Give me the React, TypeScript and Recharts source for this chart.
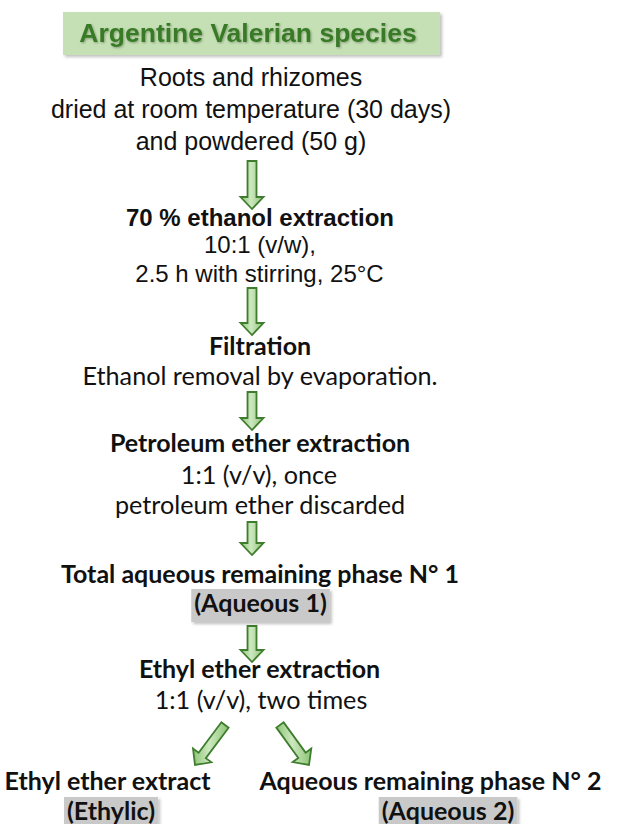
import React from "react";
import { ScatterChart, Scatter, XAxis, YAxis } from "recharts";

const W = 620;
const H = 824;

const ARIAL = '"Liberation Sans", Arial, sans-serif';
const CALIBRI = 'Lato, "Open Sans", sans-serif';

// banner at the top
const titleRows = [{ x: 248, y: 42, label: "Argentine Valerian species" }];

// plant material description
const introLines = [
  { x: 251, y: 86, label: "Roots and rhizomes" },
  { x: 251, y: 118, label: "dried at room temperature (30 days)" },
  { x: 251, y: 150, label: "and powdered (50 g)" },
];

// bold step headings
const stepTitles = [
  { x: 260, y: 226, label: "70 % ethanol extraction", face: "arial" },
  { x: 260, y: 355, label: "Filtration", face: "calibri" },
  { x: 260, y: 452, label: "Petroleum ether extraction", face: "calibri" },
  { x: 260, y: 583, label: "Total aqueous remaining phase N° 1", face: "calibri" },
  { x: 259.5, y: 678, label: "Ethyl ether extraction", face: "calibri" },
  { x: 107.5, y: 790, label: "Ethyl ether extract", face: "calibri" },
  { x: 430.5, y: 790, label: "Aqueous remaining phase N° 2", face: "calibri" },
];

// conditions under each heading
const stepNotes = [
  { x: 260, y: 253, label: "10:1 (v/w),", face: "arial" },
  { x: 259.5, y: 282, label: "2.5 h with stirring, 25°C", face: "arial" },
  { x: 260, y: 385, label: "Ethanol removal by evaporation.", face: "calibri" },
  { x: 259, y: 484, label: "1:1 (v/v), once", face: "calibri" },
  { x: 260, y: 514, label: "petroleum ether discarded", face: "calibri" },
  { x: 261, y: 709, label: "1:1 (v/v), two times", face: "calibri" },
];

// fraction names (grey tags)
const fractionTags = [
  { x: 260.5, y: 612, label: "(Aqueous 1)" },
  { x: 111, y: 820, label: "(Ethylic)" },
  { x: 448, y: 820, label: "(Aqueous 2)" },
];

// flow arrows: tail -> tip
const arrows = [
  [{ x: 252, y: 161 }, { x: 252, y: 209 }],
  [{ x: 252, y: 288 }, { x: 252, y: 335 }],
  [{ x: 252, y: 392 }, { x: 252, y: 430 }],
  [{ x: 252, y: 522 }, { x: 252, y: 555 }],
  [{ x: 252, y: 626 }, { x: 252, y: 662 }],
  [{ x: 225, y: 725 }, { x: 195, y: 765 }],
  [{ x: 280, y: 725 }, { x: 309, y: 765 }],
];

const BOLD_SIZE = 25;
const NOTE_SIZE = 25.2;

let measureCtx: CanvasRenderingContext2D | null = null;
const measure = (txt: string, font: string) => {
  if (typeof document === "undefined") return txt.length * 11.5;
  if (!measureCtx) measureCtx = document.createElement("canvas").getContext("2d");
  if (!measureCtx) return txt.length * 11.5;
  measureCtx.font = font;
  return measureCtx.measureText(txt).width;
};

const Nothing = () => <g />;

const TitleBanner = (props: any) => {
  const { cx, cy, payload } = props;
  if (cx == null || cy == null) return null;
  return (
    <g>
      <rect x={cx - 185} y={cy - 30} width={377} height={43} fill="#c5e0b4" filter="url(#softShadow)" />
      <text
        x={cx}
        y={cy}
        textAnchor="middle"
        fontFamily={ARIAL}
        fontWeight="bold"
        fontSize={26.5}
        fill="#387a28"
        filter="url(#textShadow)"
      >
        {payload.label}
      </text>
    </g>
  );
};

const IntroLine = (props: any) => {
  const { cx, cy, payload } = props;
  if (cx == null || cy == null) return null;
  return (
    <text x={cx} y={cy} textAnchor="middle" fontFamily={ARIAL} fontSize={25} fill="#111">
      {payload.label}
    </text>
  );
};

const StepTitle = (props: any) => {
  const { cx, cy, payload } = props;
  if (cx == null || cy == null) return null;
  const arial = payload.face === "arial";
  return (
    <text
      x={cx}
      y={cy}
      textAnchor="middle"
      fontFamily={arial ? ARIAL : CALIBRI}
      fontWeight="bold"
      fontSize={arial ? 24 : BOLD_SIZE}
      fill="#111"
    >
      {payload.label}
    </text>
  );
};

const StepNote = (props: any) => {
  const { cx, cy, payload } = props;
  if (cx == null || cy == null) return null;
  const arial = payload.face === "arial";
  return (
    <text
      x={cx}
      y={cy}
      textAnchor="middle"
      fontFamily={arial ? ARIAL : CALIBRI}
      fontSize={arial ? 24 : NOTE_SIZE}
      fill="#111"
    >
      {payload.label}
    </text>
  );
};

const FractionTag = (props: any) => {
  const { cx, cy, payload } = props;
  if (cx == null || cy == null) return null;
  const w = measure(payload.label, `bold ${BOLD_SIZE}px Lato`) + 6;
  return (
    <g>
      <rect x={cx - w / 2} y={cy - 23} width={w} height={33} fill="#c9c9c9" filter="url(#softShadow)" />
      <text x={cx} y={cy} textAnchor="middle" fontFamily={CALIBRI} fontWeight="bold" fontSize={BOLD_SIZE} fill="#111">
        {payload.label}
      </text>
    </g>
  );
};

// block arrow drawn along the scatter's joint line
const BlockArrow = (props: any) => {
  const pts = props.points;
  if (!pts || pts.length < 2) return <g />;
  const [a, b] = pts;
  const dx = b.x - a.x;
  const dy = b.y - a.y;
  const len = Math.hypot(dx, dy);
  const ux = dx / len;
  const uy = dy / len;
  const nx = -uy;
  const ny = ux;
  const sw = 4.5;
  const hw = 11.5;
  const hl = 12;
  const bx = b.x - ux * hl;
  const by = b.y - uy * hl;
  const poly = [
    [a.x + nx * sw, a.y + ny * sw],
    [bx + nx * sw, by + ny * sw],
    [bx + nx * hw, by + ny * hw],
    [b.x, b.y],
    [bx - nx * hw, by - ny * hw],
    [bx - nx * sw, by - ny * sw],
    [a.x - nx * sw, a.y - ny * sw],
  ];
  return (
    <polygon
      points={poly.map((p) => p.join(",")).join(" ")}
      fill="url(#arrowFill)"
      stroke="#3f7d2e"
      strokeWidth={1.8}
    />
  );
};

export default function App() {
  return (
    <div style={{ position: "absolute", left: 0, top: 0, width: W, height: H, background: "#fff" }}>
      <ScatterChart width={W} height={H} margin={{ top: 0, right: 0, bottom: 0, left: 0 }}>
        <defs>
          <linearGradient id="arrowFill" x1="0" y1="0" x2="1" y2="0">
            <stop offset="0%" stopColor="#8cc474" />
            <stop offset="45%" stopColor="#cde8c0" />
            <stop offset="100%" stopColor="#8cc474" />
          </linearGradient>
          <filter id="softShadow" x="-5%" y="-10%" width="115%" height="130%">
            <feDropShadow dx="2" dy="2" stdDeviation="1.5" floodColor="#000" floodOpacity="0.25" />
          </filter>
          <filter id="textShadow" x="-5%" y="-10%" width="115%" height="130%">
            <feDropShadow dx="1" dy="1" stdDeviation="0.8" floodColor="#000" floodOpacity="0.3" />
          </filter>
        </defs>
        <XAxis type="number" dataKey="x" domain={[0, W]} hide />
        <YAxis type="number" dataKey="y" domain={[0, H]} reversed hide />
        {arrows.map((pair, i) => (
          <Scatter
            key={`arrow-${i}`}
            data={pair}
            line={BlockArrow}
            lineType="joint"
            shape={Nothing}
            isAnimationActive={false}
          />
        ))}
        <Scatter data={titleRows} shape={TitleBanner} isAnimationActive={false} />
        <Scatter data={introLines} shape={IntroLine} isAnimationActive={false} />
        <Scatter data={stepTitles} shape={StepTitle} isAnimationActive={false} />
        <Scatter data={stepNotes} shape={StepNote} isAnimationActive={false} />
        <Scatter data={fractionTags} shape={FractionTag} isAnimationActive={false} />
      </ScatterChart>
    </div>
  );
}
